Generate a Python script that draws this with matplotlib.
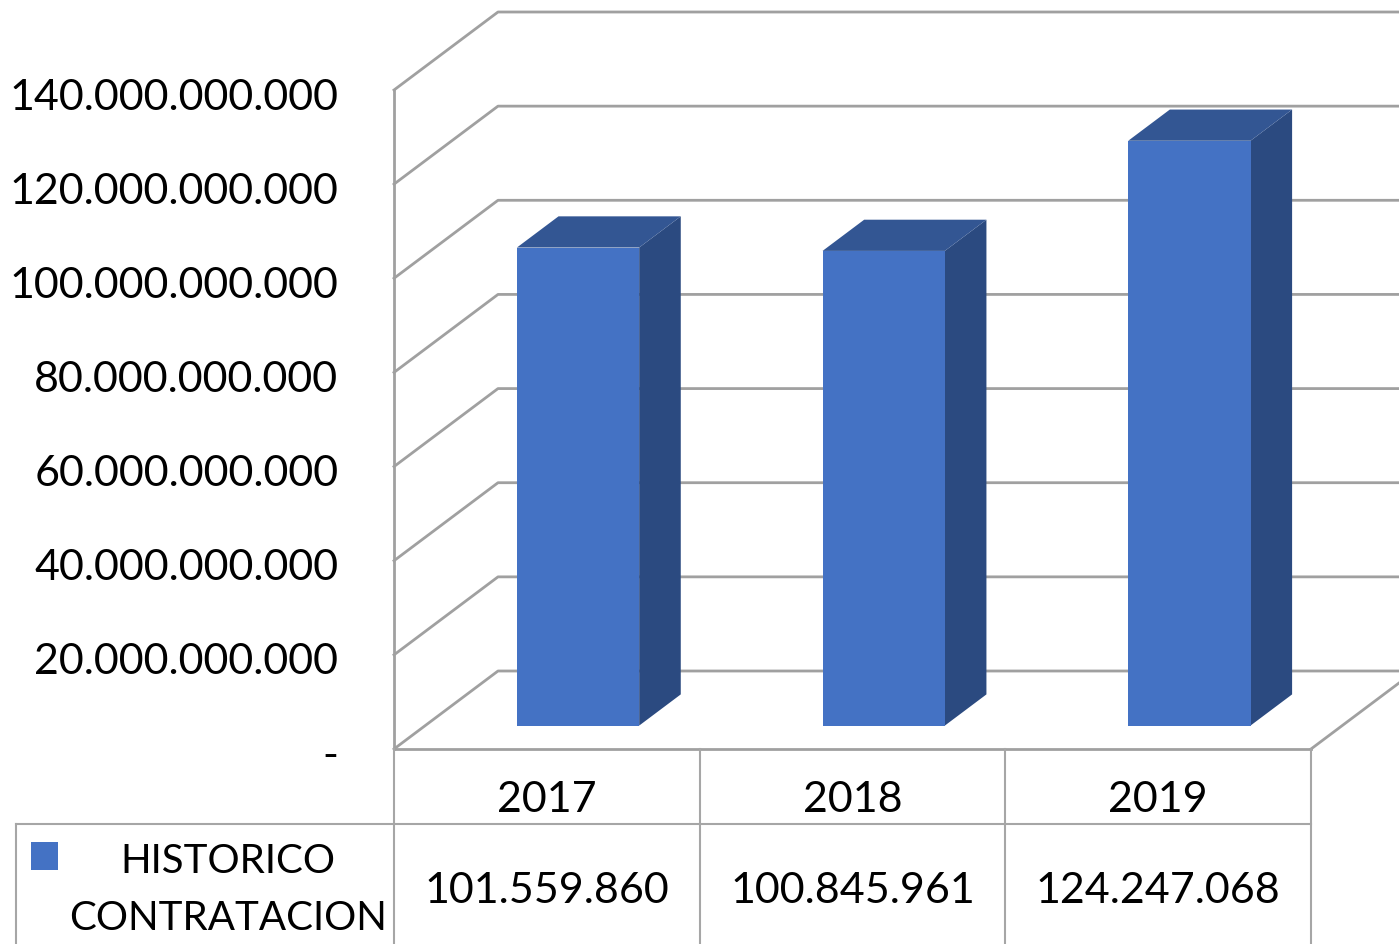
import matplotlib
matplotlib.use("Agg")
import matplotlib.pyplot as plt
from matplotlib.patches import Polygon, Rectangle
from matplotlib.transforms import ScaledTranslation

plt.rcParams['font.family'] = ['Lato', 'DejaVu Sans']

years = ['2017', '2018', '2019']
valores = [101559860, 100845961, 124247068]   # as shown in the table
escala = 1000                                  # axis is in units, table in thousands
serie = 'HISTORICO\nCONTRATACION'
yticks = [0, 20e9, 40e9, 60e9, 80e9, 100e9, 120e9, 140e9]

front_c = '#4472C4'
top_c = '#335693'
side_c = '#2B4A80'
grid_c = '#A0A0A0'
tab_c = '#A6A6A6'

W, H = 1399, 945
fig = plt.figure(figsize=(W / 100, H / 100), dpi=100, facecolor='white')

# plot area = front plane of the 3D box
ax = fig.add_axes([394 / W, (H - 750) / H, (1311 - 394) / W, (750 - 91) / H])
ax.set_xlim(-0.5, 2.5)
ax.set_ylim(0, 140e9)
for s in ax.spines.values():
    s.set_visible(False)
ax.set_xticks([])
ax.set_yticks(yticks)
ax.set_yticklabels(['-' if v == 0 else f'{v:,.0f}'.replace(',', '.') for v in yticks], fontsize=31)
ax.tick_params(axis='y', length=0, pad=40)
down = ScaledTranslation(0, -3 / 100, fig.dpi_scale_trans)
for lab in ax.get_yticklabels():
    lab.set_transform(lab.get_transform() + down)

# oblique depth offset (full depth), in data units
DX = 104 / 917 * 3
DY = 78 / 659 * 140e9


def proj(x, y, d):
    return (x + d * DX, y + d * DY)


# walls / gridlines
for v in yticks:
    pts = [proj(-0.5, v, 0), proj(-0.5, v, 1), proj(3.0, v, 1)]
    ax.plot(*zip(*pts), color=grid_c, lw=2, clip_on=False, zorder=1)
ax.plot(*zip(proj(-0.5, 0, 0), proj(-0.5, 140e9, 0)), color=grid_c, lw=2, clip_on=False, zorder=1)
ax.plot(*zip(proj(-0.5, 0, 0), proj(2.5, 0, 0)), color=grid_c, lw=2, clip_on=False, zorder=1)
ax.plot(*zip(proj(2.5, 0, 0), proj(2.5, 0, 1)), color=grid_c, lw=2, clip_on=False, zorder=1)

# 3D bars
hw = 0.2
d0, d1 = 0.3, 0.7
for i, v in enumerate(valores):
    h = v * escala
    x0, x1 = i - hw, i + hw
    front = [proj(x0, 0, d0), proj(x1, 0, d0), proj(x1, h, d0), proj(x0, h, d0)]
    side = [proj(x1, 0, d0), proj(x1, 0, d1), proj(x1, h, d1), proj(x1, h, d0)]
    top = [proj(x0, h, d0), proj(x1, h, d0), proj(x1, h, d1), proj(x0, h, d1)]
    ax.add_patch(Polygon(side, closed=True, fc=side_c, ec='none', zorder=3, clip_on=False))
    ax.add_patch(Polygon(top, closed=True, fc=top_c, ec='none', zorder=3, clip_on=False))
    ax.add_patch(Polygon(front, closed=True, fc=front_c, ec='none', zorder=4, clip_on=False))

# data table below the plot
tx = fig.add_axes([394 / W, 0, (1311 - 394) / W, (H - 750) / H])
tx.set_xlim(-0.5, 2.5)
tx.set_ylim(0, 1)
tx.axis('off')
th = H - 750
row = (H - 825) / th
left = -0.5 - (394 - 16) / 917 * 3
for xb in [-0.5, 0.5, 1.5, 2.5]:
    tx.plot([xb, xb], [0, 1], color=tab_c, lw=1.5, clip_on=False)
tx.plot([left, 2.5], [row, row], color=tab_c, lw=1.5, clip_on=False)
tx.plot([left, left], [0, row], color=tab_c, lw=1.5, clip_on=False)

for i, (yr, v) in enumerate(zip(years, valores)):
    tx.text(i, (H - 797) / th, yr, ha='center', va='center_baseline', fontsize=31)
    tx.text(i, (H - 888) / th, f'{v:,}'.replace(',', '.'), ha='center', va='center_baseline', fontsize=31)

kx = -0.5 - (394 - 31) / 917 * 3
kw = 27 / 917 * 3
tx.add_patch(Rectangle((kx, (H - 871) / th), kw, 28 / th, fc=front_c, ec='none', clip_on=False))
tx.text(-0.5 - (394 - 228) / 917 * 3, (H - 890) / th, serie, ha='center', va='center',
        fontsize=29, linespacing=1.66)

fig.savefig('out.png', dpi=100, facecolor='white')
